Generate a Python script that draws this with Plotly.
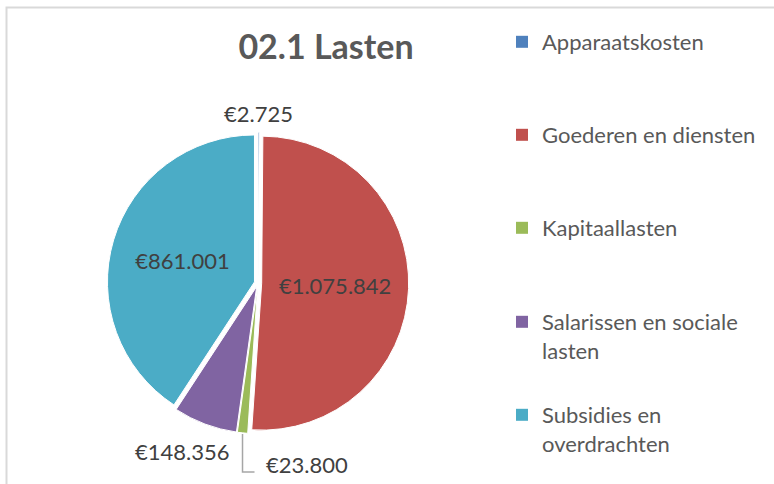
import math
import plotly.graph_objects as go

categories = ["Apparaatskosten", "Goederen en diensten", "Kapitaallasten",
              "Salarissen en sociale lasten", "Subsidies en overdrachten"]
values = [2725, 1075842, 23800, 148356, 861001]
value_labels = ["€2.725", "€1.075.842", "€23.800", "€148.356", "€861.001"]
legend_labels = ["Apparaatskosten", "Goederen en diensten", "Kapitaallasten",
                 "Salarissen en sociale<br>lasten", "Subsidies en<br>overdrachten"]
colors = ["#4F81BD", "#C0504D", "#9BBB59", "#8064A2", "#4BACC6"]

FONT = "Lato"
W, H = 774, 484
CX, CY, R, PULL = 258, 283, 147, 0.025

def px(x):
    return x / W

def py(y):
    return 1 - y / H

# which labels sit inside the slice; others are placed outside from the slice angle
inside = [False, True, False, False, True]

fig = go.Figure()
fig.add_trace(go.Pie(
    labels=categories, values=values, text=value_labels,
    texttemplate="%{text}", textinfo="text",
    textposition=["inside" if f else "none" for f in inside],
    insidetextorientation="horizontal",
    textfont=dict(family=FONT, size=22, color="#404040"),
    marker=dict(colors=colors, line=dict(color="white", width=1)),
    sort=False, direction="clockwise", rotation=0,
    pull=[PULL] * len(values), showlegend=False, hoverinfo="label+value",
    domain=dict(x=[px(CX - R * (1 + PULL)), px(CX + R * (1 + PULL))],
                y=[py(CY + R * (1 + PULL)), py(CY - R * (1 + PULL))]),
))

# outside labels, positioned from each slice's mid angle
total = sum(values)
annotations = []
shapes = []
cum = 0
label_place = {0: (R + 23, 0), 3: (R + 33, -12)}  # (radial distance, x nudge)
for i, v in enumerate(values):
    mid = (cum + v / 2) / total * 2 * math.pi
    cum += v
    if inside[i]:
        continue
    sx, sy = math.sin(mid), -math.cos(mid)
    if i in label_place:
        d, nx = label_place[i]
        annotations.append(dict(
            x=px(CX + sx * d + nx), y=py(CY + sy * d), xref="paper", yref="paper",
            text=value_labels[i], showarrow=False, xanchor="center", yanchor="middle",
            font=dict(family=FONT, size=22, color="#404040")))
    else:
        ex, ey = CX + sx * R * (1 + PULL), CY + sy * R * (1 + PULL)
        shapes.append(dict(
            type="path", xref="paper", yref="paper",
            path=f"M {px(ex)},{py(ey + 1)} L {px(ex)},{py(ey + 39)} L {px(ex + 12)},{py(ey + 39)}",
            line=dict(color="#A6A6A6", width=1.5)))
        annotations.append(dict(
            x=px(ex + 21), y=py(ey + 32), xref="paper", yref="paper",
            text=value_labels[i], showarrow=False, xanchor="left", yanchor="middle",
            font=dict(family=FONT, size=22, color="#404040")))

legend_tops = [42, 135, 228, 322, 415]
layout_legends = {}
for i, (name, col) in enumerate(zip(legend_labels, colors)):
    key = "legend" if i == 0 else f"legend{i+1}"
    fig.add_trace(go.Scatter(
        x=[None], y=[None], mode="markers", name=name,
        marker=dict(symbol="square", size=12, color=col),
        legend=key, showlegend=True, hoverinfo="skip",
    ))
    layout_legends[key] = dict(
        x=px(502), y=py(legend_tops[i] - 21), xanchor="left", yanchor="top",
        font=dict(family=FONT, size=22, color="#595959"),
        bgcolor="rgba(0,0,0,0)", itemclick=False, itemdoubleclick=False,
        valign="top",
    )

shapes.append(dict(type="rect", xref="paper", yref="paper",
                   x0=px(6.5), x1=1.01, y0=-0.01, y1=py(7.5),
                   line=dict(color="#D9D9D9", width=2), layer="below"))

fig.update_layout(
    width=W, height=H,
    margin=dict(l=0, r=0, t=0, b=0),
    paper_bgcolor="white", plot_bgcolor="white",
    title=dict(text="<b>02.1 Lasten</b>", x=px(326), xanchor="center",
               y=py(47), yanchor="middle",
               font=dict(family=FONT, size=34, color="#595959")),
    xaxis=dict(visible=False), yaxis=dict(visible=False),
    shapes=shapes, annotations=annotations,
    **layout_legends,
)

fig.write_html("out.html", config={"displayModeBar": False},
               post_script="document.body.style.margin='0px';")
